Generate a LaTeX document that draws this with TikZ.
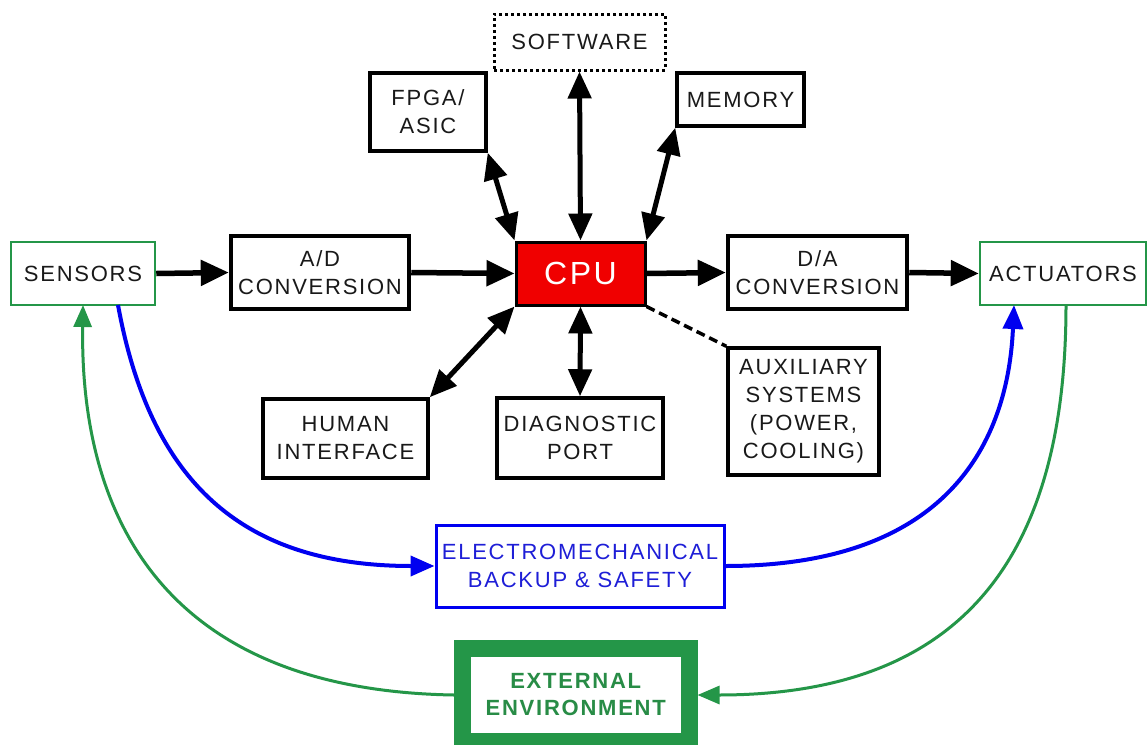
\documentclass[tikz,border=0pt]{standalone}
\usepackage{fontspec}
\usetikzlibrary{arrows.meta}
\newfontfamily\lab{Liberation Sans}[LetterSpace=8]
\definecolor{egreen}{RGB}{36,150,72}
\definecolor{tgreen}{RGB}{40,140,70}
\definecolor{eblue}{RGB}{0,0,240}
\definecolor{tblue}{RGB}{30,30,215}
\definecolor{cpured}{RGB}{240,0,0}
\definecolor{txt}{RGB}{25,25,25}
\tikzset{
  basebox/.style={inner sep=0pt, align=center, font=\lab\fontsize{22}{28}\selectfont},
  blkbox/.style={basebox, draw=black, line width=3.5pt, text=txt},
  thickbox/.style={blkbox, line width=4.5pt},
  grnbox/.style={basebox, draw=egreen, line width=2.5pt, text=txt},
  dbl/.style={line width=5pt, {Triangle[length=27pt,width=23pt]}-{Triangle[length=27pt,width=23pt]}},
  sgl/.style={line width=5.5pt, -{Triangle[length=28pt,width=25pt]}},
  bluecurve/.style={draw=eblue, line width=4pt, -{Triangle[length=24pt,width=20pt]}},
  greencurve/.style={draw=egreen, line width=3pt, -{Triangle[length=22pt,width=18pt]}},
}
\begin{document}
\begin{tikzpicture}[x=1pt,y=-1pt]
\useasboundingbox (0,0) rectangle (1148,744);
\fill[white] (0,0) rectangle (1148,744);

% boxes
\node[grnbox, minimum width=144pt, minimum height=63pt] (sensors) at (83,273.5) {SENSORS};
\node[thickbox, minimum width=178pt, minimum height=73pt] (ad) at (320,272.5) {A/D\\CONVERSION};
\node[draw=black, line width=3pt, fill=cpured, text=white, inner sep=0pt,
      font=\lab\fontsize{32}{36}\selectfont, minimum width=129pt, minimum height=63pt] (cpu) at (580.5,273.5) {CPU};
\node[thickbox, minimum width=179pt, minimum height=73pt] (da) at (817.5,272.5) {D/A\\CONVERSION};
\node[grnbox, minimum width=166pt, minimum height=63pt] (act) at (1063,273.5) {ACTUATORS};
\node[basebox, draw=black, line width=3pt, dash pattern=on 3pt off 3pt, text=txt,
      minimum width=171pt, minimum height=56pt] (soft) at (579.5,42) {SOFTWARE};
\node[blkbox, minimum width=116pt, minimum height=78pt] (fpga) at (428,112) {FPGA/\\ASIC};
\node[blkbox, minimum width=127pt, minimum height=53pt] (mem) at (740.5,99.5) {MEMORY};
\node[blkbox, minimum width=165pt, minimum height=79pt] (human) at (345.5,438.5) {HUMAN\\INTERFACE};
\node[blkbox, minimum width=166pt, minimum height=80pt] (diag) at (580,438) {DIAGNOSTIC\\PORT};
\node[blkbox, minimum width=151pt, minimum height=127pt] (aux) at (803.5,411.5) {AUXILIARY\\SYSTEMS\\(POWER,\\COOLING)};
\node[basebox, draw=eblue, line width=3pt, text=tblue, minimum width=288pt, minimum height=82pt] (electro) at (580,566) {ELECTROMECHANICAL\\BACKUP \& SAFETY};
\node[basebox, draw=egreen, line width=17pt, outer sep=8.5pt, text=tgreen, font=\lab\bfseries\fontsize{22}{27}\selectfont,
      minimum width=226.5pt, minimum height=93pt] (ext) at (575.75,695) {EXTERNAL\\ENVIRONMENT};

% straight connectors
\draw[sgl] (sensors.east) -- (ad.west);
\draw[sgl] (ad.east) -- (cpu.west);
\draw[sgl] (cpu.east) -- (da.west);
\draw[sgl] (da.east) -- (act.west);
\draw[dbl] (cpu.north) -- (soft.south);
\draw[dbl] (cpu.north west) -- (fpga.south east);
\draw[dbl] (cpu.north east) -- (mem.south west);
\draw[dbl] (cpu.south west) -- (human.north east);
\draw[dbl] (cpu.south) -- (diag.north);
\draw[line width=3.5pt, dash pattern=on 9pt off 5pt] (cpu.south east) -- (aux.north west);

% curved connectors
\coordinate (sb) at (118,305);
\coordinate (sg) at (83,305);
\coordinate (ab) at (1014,305);
\coordinate (ag) at (1066,305);
\draw[bluecurve] (sb) .. controls (150,480) and (240,566) .. (electro.west);
\draw[bluecurve] (electro.east) .. controls (950,566) and (1008,440) .. (ab);
\draw[greencurve] (ext.west) .. controls (150,690) and (80,500) .. (sg);
\draw[greencurve] (ag) .. controls (1066,560) and (960,695) .. (ext.east);
\end{tikzpicture}
\end{document}
